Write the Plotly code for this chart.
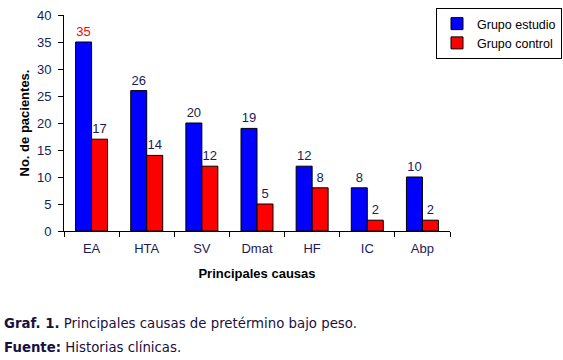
import plotly.graph_objects as go

categories = ["EA", "HTA", "SV", "Dmat", "HF", "IC", "Abp"]
estudio = [35, 26, 20, 19, 12, 8, 10]
control = [17, 14, 12, 5, 8, 2, 2]
y_ticks = [0, 5, 10, 15, 20, 25, 30, 35, 40]

W, H = 563, 360
L, R, T, B = 64, 450, 15, 231
pw, ph = R - L, B - T

def px(x):
    return (x - L) / pw

def py(y):
    return (B - y) / ph

lab = "#221a55"
est_colors = ["red"] + [lab] * (len(estudio) - 1)
FS = 13

fig = go.Figure()
fig.add_trace(go.Bar(
    x=categories, y=estudio, name="Grupo estudio",
    marker=dict(color="#0000ff", line=dict(color="black", width=1)),
    text=estudio, textposition="outside", constraintext="none",
    textfont=dict(color=est_colors, size=FS, family="Liberation Sans, Arial"),
    cliponaxis=False,
))
fig.add_trace(go.Bar(
    x=categories, y=control, name="Grupo control",
    marker=dict(color="#ff0000", line=dict(color="black", width=1)),
    text=control, textposition="outside", constraintext="none",
    textfont=dict(color=lab, size=FS, family="Liberation Sans, Arial"),
    cliponaxis=False,
))

fig.update_layout(
    width=W, height=H,
    margin=dict(l=L, r=W - R, t=T, b=H - B, autoexpand=False),
    paper_bgcolor="white", plot_bgcolor="white",
    barmode="group", bargap=0.42, bargroupgap=0,
    font=dict(family="Liberation Sans, Arial", size=FS, color=lab),
    showlegend=True,
    legend=dict(
        x=px(562), y=py(8), xanchor="right", yanchor="top",
        bordercolor="black", borderwidth=1, bgcolor="white",
        font=dict(size=12.5, color="black"),
        tracegroupgap=0, itemwidth=30,
    ),
    xaxis=dict(
        showline=True, linecolor="black", linewidth=1,
        ticks="outside", ticklen=5, tickcolor="black", tickson="boundaries",
        showgrid=False, tickfont=dict(size=FS, color=lab), ticklabelstandoff=5,
        title=dict(text="<b>Principales causas</b>", font=dict(size=FS, color="black"), standoff=14),
    ),
    yaxis=dict(
        range=[0, 40], tickvals=y_ticks, showline=True, linecolor="black", linewidth=1,
        ticks="outside", ticklen=5, tickcolor="black", showgrid=False, zeroline=False,
        tickfont=dict(size=FS, color=lab), ticklabelstandoff=4,
        title=dict(text="<b>No. de pacientes.</b>", font=dict(size=FS, color="black"), standoff=4),
    ),
)

fig.add_annotation(
    xref="paper", yref="paper", x=px(2), y=py(323), xanchor="left", yanchor="middle",
    text="<b>Graf. 1.</b> Principales causas de pretérmino bajo peso.",
    showarrow=False, font=dict(family="DejaVu Sans, Verdana", size=13.3, color="#1a1040"),
)
fig.add_annotation(
    xref="paper", yref="paper", x=px(2), y=py(348), xanchor="left", yanchor="middle",
    text="<b>Fuente:</b> Historias clínicas.",
    showarrow=False, font=dict(family="DejaVu Sans, Verdana", size=13.3, color="#1a1040"),
)

fig.write_html(
    "out.html",
    config={"displayModeBar": False},
    post_script="document.body.style.margin='0';document.body.style.overflow='hidden';",
)
